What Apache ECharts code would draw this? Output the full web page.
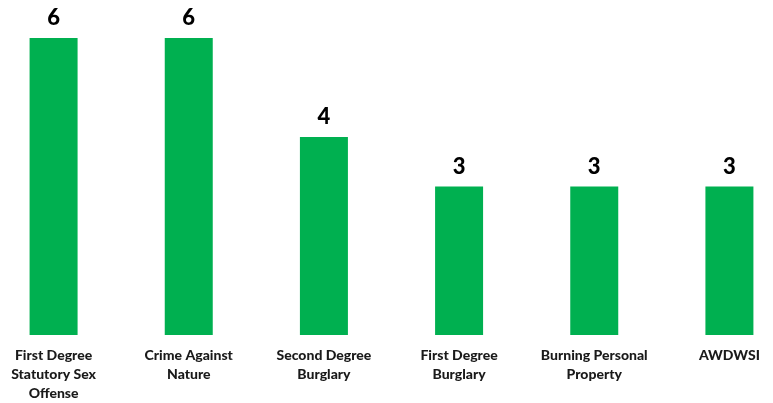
<!DOCTYPE html>
<html>
<head>
<meta charset="utf-8">
<script src="https://cdn.jsdelivr.net/npm/echarts@6/dist/echarts.min.js"></script>
<style>html,body{margin:0;padding:0;background:#fff;overflow:hidden;width:773px;height:403px;position:relative;}#c{position:absolute;left:-14px;top:0;width:811px;height:403px;}</style>
</head>
<body>
<div id="c"></div>
<script>
var categories = ["First Degree\nStatutory Sex\nOffense", "Crime Against\nNature", "Second Degree\nBurglary", "First Degree\nBurglary", "Burning Personal\nProperty", "AWDWSI"];
var values = [6, 6, 4, 3, 3, 3];

var chart = echarts.init(document.getElementById('c'), null, {renderer: 'canvas'});
chart.setOption({
  animation: false,
  grid: {left: 0, right: 0, top: 38, bottom: 66, containLabel: false},
  xAxis: {
    type: 'category',
    data: categories,
    axisLine: {show: false},
    axisTick: {show: false},
    axisLabel: {
      interval: 0,
      margin: 11,
      fontFamily: 'Lato, "Open Sans", sans-serif',
      fontWeight: 900,
      fontSize: 14,
      lineHeight: 19,
      color: '#1a1a1a'
    }
  },
  yAxis: {
    type: 'value',
    min: 0, max: 6,
    show: false,
    splitLine: {show: false}
  },
  series: [{
    type: 'bar',
    data: values,
    barWidth: 48,
    itemStyle: {color: '#00B050'},
    label: {
      show: true,
      position: 'top',
      distance: 9,
      fontFamily: 'Lato, "Open Sans", sans-serif',
      fontWeight: 900,
      fontSize: 22,
      color: '#000'
    }
  }]
});
</script>
</body>
</html>
